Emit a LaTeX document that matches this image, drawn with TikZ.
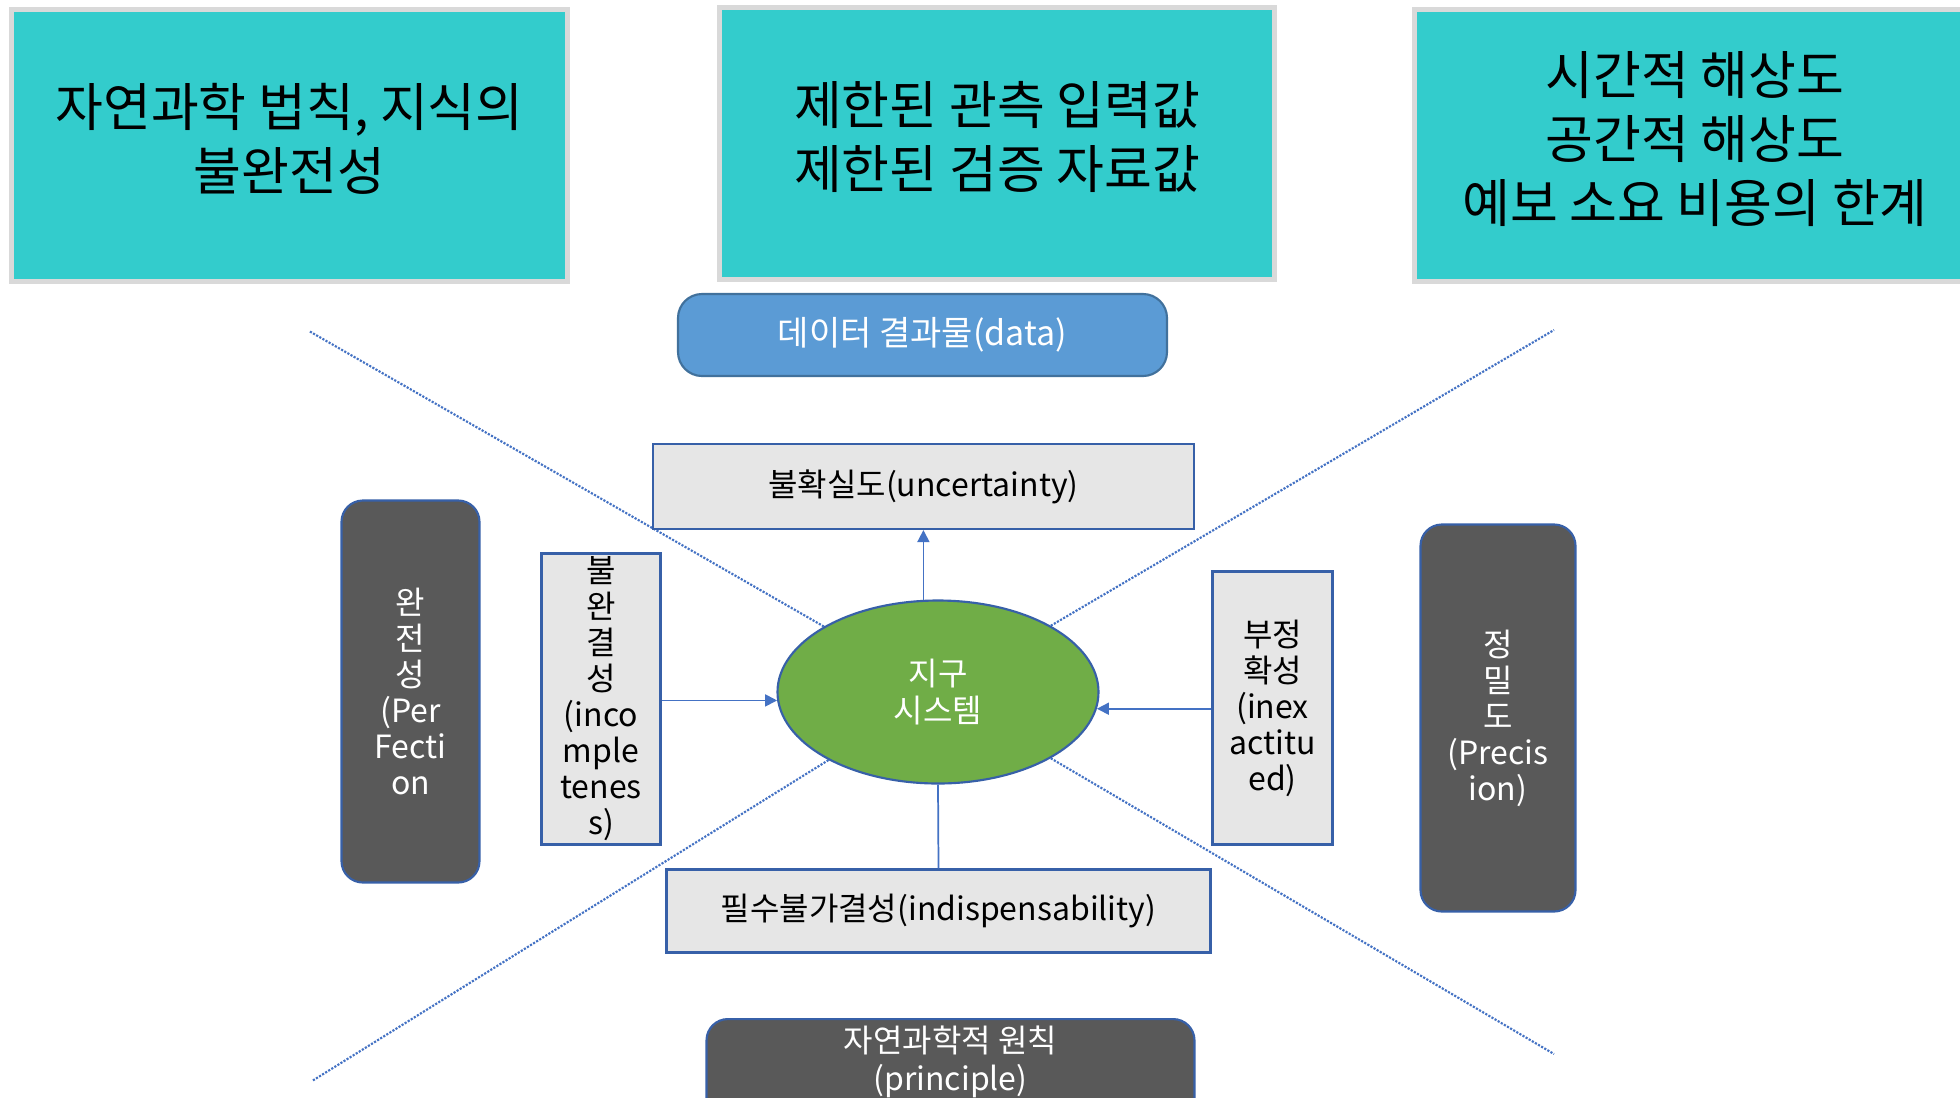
\documentclass[tikz,border=0pt]{standalone}
\usepackage{fontspec}
\setmainfont{Noto Sans CJK KR}
\usetikzlibrary{shapes.geometric,arrows.meta,backgrounds}
\definecolor{tealfill}{HTML}{33CCCC}
\definecolor{tealedge}{HTML}{D9D9D9}
\definecolor{datafill}{HTML}{5B9BD5}
\definecolor{dataedge}{HTML}{41719C}
\definecolor{lightfill}{HTML}{E6E6E6}
\definecolor{boxedge}{HTML}{3760A8}
\definecolor{darkfill}{HTML}{595959}
\definecolor{earthfill}{HTML}{70AD47}
\definecolor{linkblue}{HTML}{4472C4}
\newcommand\liftedlines[1]{\raisebox{4.2pt}{\begin{tabular}{@{}c@{}}#1\end{tabular}}}
\begin{document}
\begin{tikzpicture}[x=0.75pt,y=-0.75pt,
  bigbox/.style={draw=tealedge, line width=3.75pt, fill=tealfill, inner sep=0pt, align=center, font=\fontsize{39}{48}\selectfont},
  databox/.style={draw=dataedge, line width=1.6pt, fill=datafill, rounded corners=18pt, inner sep=0pt, align=center, text=white, font=\fontsize{25.5}{27}\selectfont},
  lightbox/.style={draw=boxedge, line width=1.6pt, fill=lightfill, inner sep=0pt, align=center, font=\fontsize{24}{27}\selectfont},
  darkbox/.style={draw=boxedge, line width=1.6pt, fill=darkfill, rounded corners=16pt, inner sep=0pt, align=center, text=white, font=\fontsize{24}{27}\selectfont},
  earthnode/.style={ellipse, draw=boxedge, line width=1.6pt, fill=earthfill, inner sep=0pt, align=center, text=white, font=\fontsize{24}{27.5}\selectfont},
  plaintext/.style={inner sep=0pt, align=center, text=white, font=\fontsize{24}{28}\selectfont},
  arr/.style={draw=linkblue, line width=1.3pt, -{Triangle[length=9pt,width=9pt]}},
  link/.style={draw=linkblue, line width=1.3pt},
  dotl/.style={draw=linkblue, line width=1.6pt, dash pattern=on 1.6pt off 1.1pt},
]
\useasboundingbox (0,0) rectangle (1960,1097);
\clip (0,0) rectangle (1960,1097);

% free ends of the dotted rays
\coordinate (c1) at (309,331);
\coordinate (c2) at (1554,330);
\coordinate (c3) at (312,1081);
\coordinate (c4) at (1554,1054);

% centre ellipse
\node[earthnode, minimum width=240.75pt, minimum height=137.25pt] (earth) at (938,692) {지구\\시스템};

% top teal boxes
\node[bigbox, minimum width=417pt, minimum height=204pt] (t1) at (289.5,145.5) {\liftedlines{자연과학 법칙, 지식의\\불완전성}};
\node[bigbox, minimum width=416.25pt, minimum height=204pt] (t2) at (997,143.5) {\liftedlines{제한된 관측 입력값\\제한된 검증 자료값}};
\node[bigbox, minimum width=420.75pt, minimum height=204pt] (t3) at (1695,145.5) {\liftedlines{시간적 해상도\\공간적 해상도\\예보 소요 비용의 한계}};

% data box
\node[databox, minimum width=366.75pt, minimum height=61.5pt] (data) at (922.5,335) {데이터 결과물(data)};

% light boxes
\node[lightbox, minimum width=405.75pt, minimum height=63.75pt] (unc) at (923.5,486.5) {불확실도(uncertainty)};
\node[lightbox, minimum width=89.25pt, minimum height=218.25pt] (inc) at (601,699) {불\\완\\결\\성\\(inco\\mple\\tenes\\s)};
\node[lightbox, minimum width=90pt, minimum height=204.75pt] (inx) at (1272.5,708) {부정\\확성\\(inex\\actitu\\ed)};
\node[lightbox, minimum width=408pt, minimum height=62.25pt] (ind) at (938.5,911) {필수불가결성(indispensability)};

% dark boxes
\node[darkbox, minimum width=103.5pt, minimum height=286.5pt] (perf) at (410.5,691.5) {완\\전\\성\\(Per\\Fecti\\on};
\node[darkbox, minimum width=116.25pt, minimum height=290.25pt] (prec) at (1498,718) {정\\밀\\도\\(Precis\\ion)};
\node[darkbox, anchor=north, minimum width=366pt, minimum height=112.5pt] (prin) at (950.5,1018) {};
\node[plaintext] (prinlbl) at (950.5,1062) {자연과학적 원칙\\(principle)};

% background: white page and dotted rays behind the boxes
\begin{pgfonlayer}{background}
\fill[white] (0,0) rectangle (1960,1097);
\draw[dotl] (earth) -- (c1);
\draw[dotl] (earth) -- (c2);
\draw[dotl] (earth) -- (c3);
\draw[dotl] (earth) -- (c4);
\end{pgfonlayer}

% connectors
\draw[arr] (earth.99) -- (earth.99 |- unc.south);
\draw[arr] (earth.183 -| inc.east) -- (earth.183);
\draw[arr] (earth.-6 -| inx.west) -- (earth.-6);
\draw[link] (earth.south) -- (ind.north);
\end{tikzpicture}
\end{document}
